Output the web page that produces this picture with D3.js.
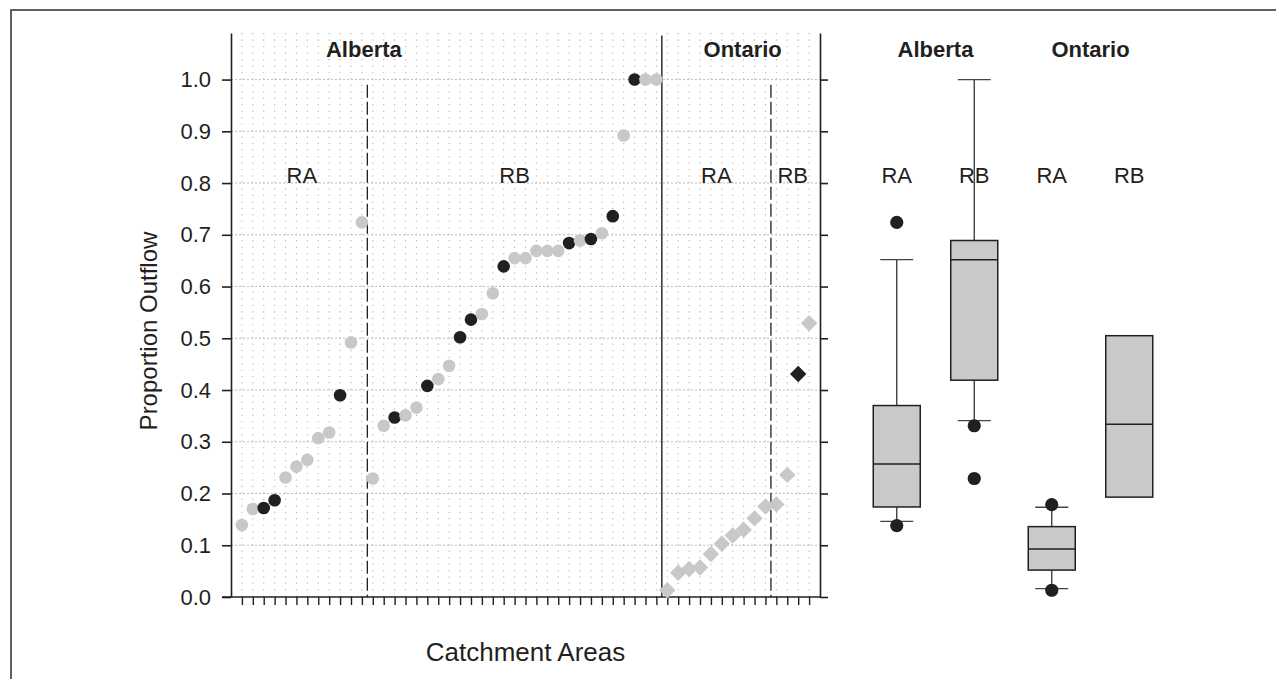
<!DOCTYPE html>
<html>
<head>
<meta charset="utf-8">
<script src="https://cdn.jsdelivr.net/npm/d3@7"></script>
<style>
  body { margin: 0; background: #fff; }
  svg text { font-family: "Liberation Sans", Arial, Helvetica, sans-serif; fill: #231f20; }
</style>
</head>
<body>
<div id="chart"></div>
<script>
// Proportion outflow per catchment area, ordered as in the figure
const albertaRA = [0.139, 0.170, 0.172, 0.187, 0.231, 0.252, 0.265, 0.307, 0.318, 0.390, 0.492, 0.724];
const albertaRADark = [2, 3, 9];
const albertaRB = [0.229, 0.331, 0.347, 0.351, 0.366, 0.408, 0.421, 0.447, 0.502, 0.536, 0.547, 0.587,
  0.639, 0.655, 0.655, 0.669, 0.669, 0.669, 0.684, 0.689, 0.692, 0.703, 0.736, 0.892, 1.0, 1.0, 1.0];
const albertaRBDark = [2, 5, 8, 9, 12, 18, 20, 22, 24];
const ontarioRA = [0.013, 0.047, 0.054, 0.057, 0.083, 0.103, 0.119, 0.130, 0.152, 0.175];
const ontarioRADark = [];
const ontarioRB = [0.179, 0.236, 0.431, 0.529];
const ontarioRBDark = [2];

// Box plot summaries
const boxGroups = ["Alberta RA", "Alberta RB", "Ontario RA", "Ontario RB"];
const boxQ1 = [0.174, 0.419, 0.052, 0.193];
const boxMedian = [0.257, 0.652, 0.093, 0.334];
const boxQ3 = [0.370, 0.689, 0.136, 0.505];
const whiskerLow = [0.146, 0.341, 0.016, null];
const whiskerHigh = [0.652, 1.0, 0.1735, null];
const boxOutliers = [[0.724, 0.138], [0.331, 0.229], [0.1785, 0.013], []];

const yTicks = d3.range(0, 11).map(d => d / 10);

const W = 1276, H = 679;
const gray = "#c8c8c9", dark = "#231f20";

const svg = d3.select("#chart").append("svg")
  .attr("width", W)
  .attr("height", H);

// Outer frame (only top and left edges are visible)
svg.append("rect")
  .attr("x", 11).attr("y", 10)
  .attr("width", 1400).attr("height", 800)
  .attr("fill", "none")
  .attr("stroke", "#3a3a3a")
  .attr("stroke-width", 1.6);

// Build the flat list of catchments
const groups = [
  { region: "Alberta", zone: "RA", values: albertaRA, dark: albertaRADark, shape: "circle" },
  { region: "Alberta", zone: "RB", values: albertaRB, dark: albertaRBDark, shape: "circle" },
  { region: "Ontario", zone: "RA", values: ontarioRA, dark: ontarioRADark, shape: "diamond" },
  { region: "Ontario", zone: "RB", values: ontarioRB, dark: ontarioRBDark, shape: "diamond" }
];
const points = [];
groups.forEach((g, gi) => {
  g.start = points.length;
  g.values.forEach((v, i) => {
    points.push({ i: points.length, v: v, dark: g.dark.includes(i), shape: g.shape, group: gi });
  });
  g.end = points.length - 1;
});

const left = 231, right = 820;
const x = d3.scalePoint()
  .domain(d3.range(points.length))
  .range([left, right])
  .padding(1);
const step = x.step();

const y = d3.scaleLinear()
  .domain([0, 1.09])
  .range([597, 33]);

// Dotted lattice: one dotted column per catchment
const dotPitch = y(0) - y(0.0125);
svg.append("g")
  .selectAll("line")
  .data(points)
  .join("line")
  .attr("x1", d => x(d.i)).attr("x2", d => x(d.i))
  .attr("y1", y(0)).attr("y2", y(1.09))
  .attr("stroke", "#b5b5b5")
  .attr("stroke-width", 1.1)
  .attr("stroke-dasharray", `1.2,${dotPitch - 1.2}`);

// Major horizontal dotted lines
svg.append("g")
  .selectAll("line")
  .data(yTicks.slice(1))
  .join("line")
  .attr("x1", left).attr("x2", right)
  .attr("y1", d => y(d)).attr("y2", d => y(d))
  .attr("stroke", "#bdbdbd")
  .attr("stroke-width", 1)
  .attr("stroke-dasharray", "2,2");

// Left axis
svg.append("g")
  .attr("transform", `translate(${left},0)`)
  .call(d3.axisLeft(y).tickValues(yTicks).tickFormat(d3.format(".1f")).tickSize(9).tickPadding(11).tickSizeOuter(0))
  .call(g => g.select(".domain").attr("stroke", "#231f20").attr("stroke-width", 1.6))
  .call(g => g.selectAll(".tick line").attr("stroke", "#231f20").attr("stroke-width", 1.6))
  .call(g => g.selectAll(".tick text").style("font-size", "22px").attr("fill", dark));

// Right axis of the scatter panel (ticks point into the box plot panel)
svg.append("g")
  .attr("transform", `translate(${right},0)`)
  .call(d3.axisRight(y).tickValues(yTicks).tickFormat("").tickSize(8).tickSizeOuter(0))
  .call(g => g.select(".domain").attr("stroke", "#231f20").attr("stroke-width", 1.6))
  .call(g => g.selectAll(".tick line").attr("stroke", "#231f20").attr("stroke-width", 1.6));

// Bottom axis
svg.append("g")
  .attr("transform", `translate(0,${y(0)})`)
  .call(d3.axisBottom(x).tickFormat("").tickSize(8).tickSizeOuter(0))
  .call(g => g.select(".domain").attr("d", `M${left - 9},0H${right}`).attr("stroke", "#231f20").attr("stroke-width", 1.6))
  .call(g => g.selectAll(".tick line").attr("stroke", "#231f20").attr("stroke-width", 1.4));

// Dividers between groups
const divX = gi => x(groups[gi].end) + step / 2;
[0, 2].forEach(gi => {
  svg.append("line")
    .attr("x1", divX(gi)).attr("x2", divX(gi))
    .attr("y1", y(0.99)).attr("y2", y(0))
    .attr("stroke", "#231f20")
    .attr("stroke-width", 1.3)
    .attr("stroke-dasharray", "13,4");
});
svg.append("line")
  .attr("x1", divX(1)).attr("x2", divX(1))
  .attr("y1", y(1.085)).attr("y2", y(0))
  .attr("stroke", "#231f20")
  .attr("stroke-width", 1.4);

// Points
const diamond = d3.symbol().type(d3.symbolSquare).size(135);
svg.append("g")
  .selectAll("circle")
  .data(points.filter(d => d.shape === "circle"))
  .join("circle")
  .attr("cx", d => x(d.i))
  .attr("cy", d => y(d.v))
  .attr("r", 6.3)
  .attr("fill", d => d.dark ? dark : gray);
svg.append("g")
  .selectAll("path")
  .data(points.filter(d => d.shape === "diamond"))
  .join("path")
  .attr("d", diamond)
  .attr("transform", d => `translate(${x(d.i)},${y(d.v)}) rotate(45)`)
  .attr("fill", d => d.dark ? dark : gray);

// Labels in the scatter panel
const mid = gi => (x(groups[gi].start) + x(groups[gi].end)) / 2;
groups.forEach((g, gi) => {
  svg.append("text")
    .attr("x", mid(gi)).attr("y", 183)
    .attr("text-anchor", "middle")
    .style("font-size", "22px")
    .text(g.zone);
});
svg.append("text")
  .attr("x", x(11) + 2).attr("y", 57)
  .attr("text-anchor", "middle")
  .style("font-size", "22px").style("font-weight", "bold")
  .text("Alberta");
svg.append("text")
  .attr("x", x(46) - 1).attr("y", 57)
  .attr("text-anchor", "middle")
  .style("font-size", "22px").style("font-weight", "bold")
  .text("Ontario");

// Box plots
const bx = d3.scalePoint().domain(boxGroups).range([858, 1168]).padding(0.5);
const boxW = 47, capW = 33;
const box = svg.append("g");
boxGroups.forEach((name, i) => {
  const cx = bx(name);
  if (whiskerLow[i] !== null) {
    box.append("line")
      .attr("x1", cx).attr("x2", cx)
      .attr("y1", y(whiskerLow[i])).attr("y2", y(whiskerHigh[i]))
      .attr("stroke", "#333").attr("stroke-width", 1.3);
    [whiskerLow[i], whiskerHigh[i]].forEach(v => {
      box.append("line")
        .attr("x1", cx - capW / 2).attr("x2", cx + capW / 2)
        .attr("y1", y(v)).attr("y2", y(v))
        .attr("stroke", "#444").attr("stroke-width", 1.3);
    });
  }
  box.append("rect")
    .attr("x", cx - boxW / 2)
    .attr("y", y(boxQ3[i]))
    .attr("width", boxW)
    .attr("height", y(boxQ1[i]) - y(boxQ3[i]))
    .attr("fill", "#c8c9cb")
    .attr("stroke", "#231f20")
    .attr("stroke-width", 1.5);
  box.append("line")
    .attr("x1", cx - boxW / 2).attr("x2", cx + boxW / 2)
    .attr("y1", y(boxMedian[i])).attr("y2", y(boxMedian[i]))
    .attr("stroke", "#231f20").attr("stroke-width", 1.5);
  box.selectAll(null)
    .data(boxOutliers[i])
    .join("circle")
    .attr("cx", cx)
    .attr("cy", v => y(v))
    .attr("r", 6.6)
    .attr("fill", dark);
  box.append("text")
    .attr("x", cx).attr("y", 183)
    .attr("text-anchor", "middle")
    .style("font-size", "22px")
    .text(name.split(" ")[1]);
});
[["Alberta", 0, 1], ["Ontario", 2, 3]].forEach(([label, a, b]) => {
  svg.append("text")
    .attr("x", (bx(boxGroups[a]) + bx(boxGroups[b])) / 2).attr("y", 57)
    .attr("text-anchor", "middle")
    .style("font-size", "22px").style("font-weight", "bold")
    .text(label);
});

// Axis titles
svg.append("text")
  .attr("transform", `translate(157,${331}) rotate(-90)`)
  .attr("text-anchor", "middle")
  .style("font-size", "24px")
  .text("Proportion Outflow");
svg.append("text")
  .attr("x", (left + right) / 2).attr("y", 661)
  .attr("text-anchor", "middle")
  .style("font-size", "26px")
  .text("Catchment Areas");
</script>
</body>
</html>
